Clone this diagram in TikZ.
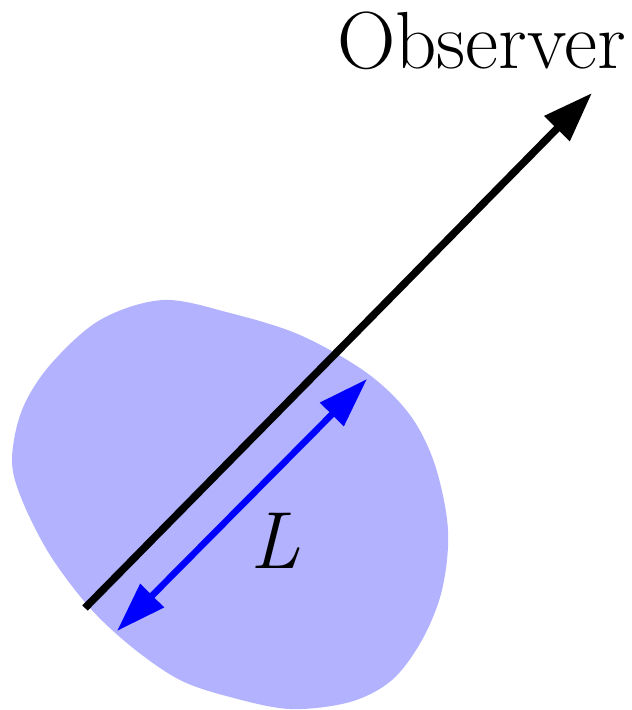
\documentclass[tikz,border=0pt]{standalone}
\usepackage{fontspec}
\usetikzlibrary{arrows.meta}
\begin{document}
\begin{tikzpicture}[x=1pt,y=-1pt,
 blob/.style={fill=blue!30, draw=none},
 obsarrow/.style={line width=7.5pt, -{Triangle[length=50pt,width=34pt]}},
 lenarrow/.style={blue, line width=6.5pt, {Triangle[length=50pt,width=32pt]}-{Triangle[length=50pt,width=32pt]}},
 lbl/.style={font=\fontsize{81}{90}\selectfont, inner sep=0pt}]
\useasboundingbox (0,0) rectangle (632,710);
\fill[blob] plot[smooth cycle, tension=0.55] coordinates {
 (163,300) (230,313) (300,335) (367,373) (410,415) (435,465) (448,530)
 (442,590) (422,640) (392,680) (350,702) (290,709) (230,697) (180,680)
 (133,648) (90,608) (50,555) (22,500) (12,460) (22,410) (50,365) (100,320)};
\coordinate (s) at (85,608);
\coordinate (o) at (592,93);
\draw[obsarrow] (s) -- (o);
\coordinate (a) at (117,631);
\coordinate (b) at (367,379);
\draw[lenarrow] (a) -- (b);
\node[lbl, anchor=base west] (obs) at (337,68) {Observer};
\node[lbl, anchor=base west] (L) at (250,568) {\itshape L};
\end{tikzpicture}
\end{document}
